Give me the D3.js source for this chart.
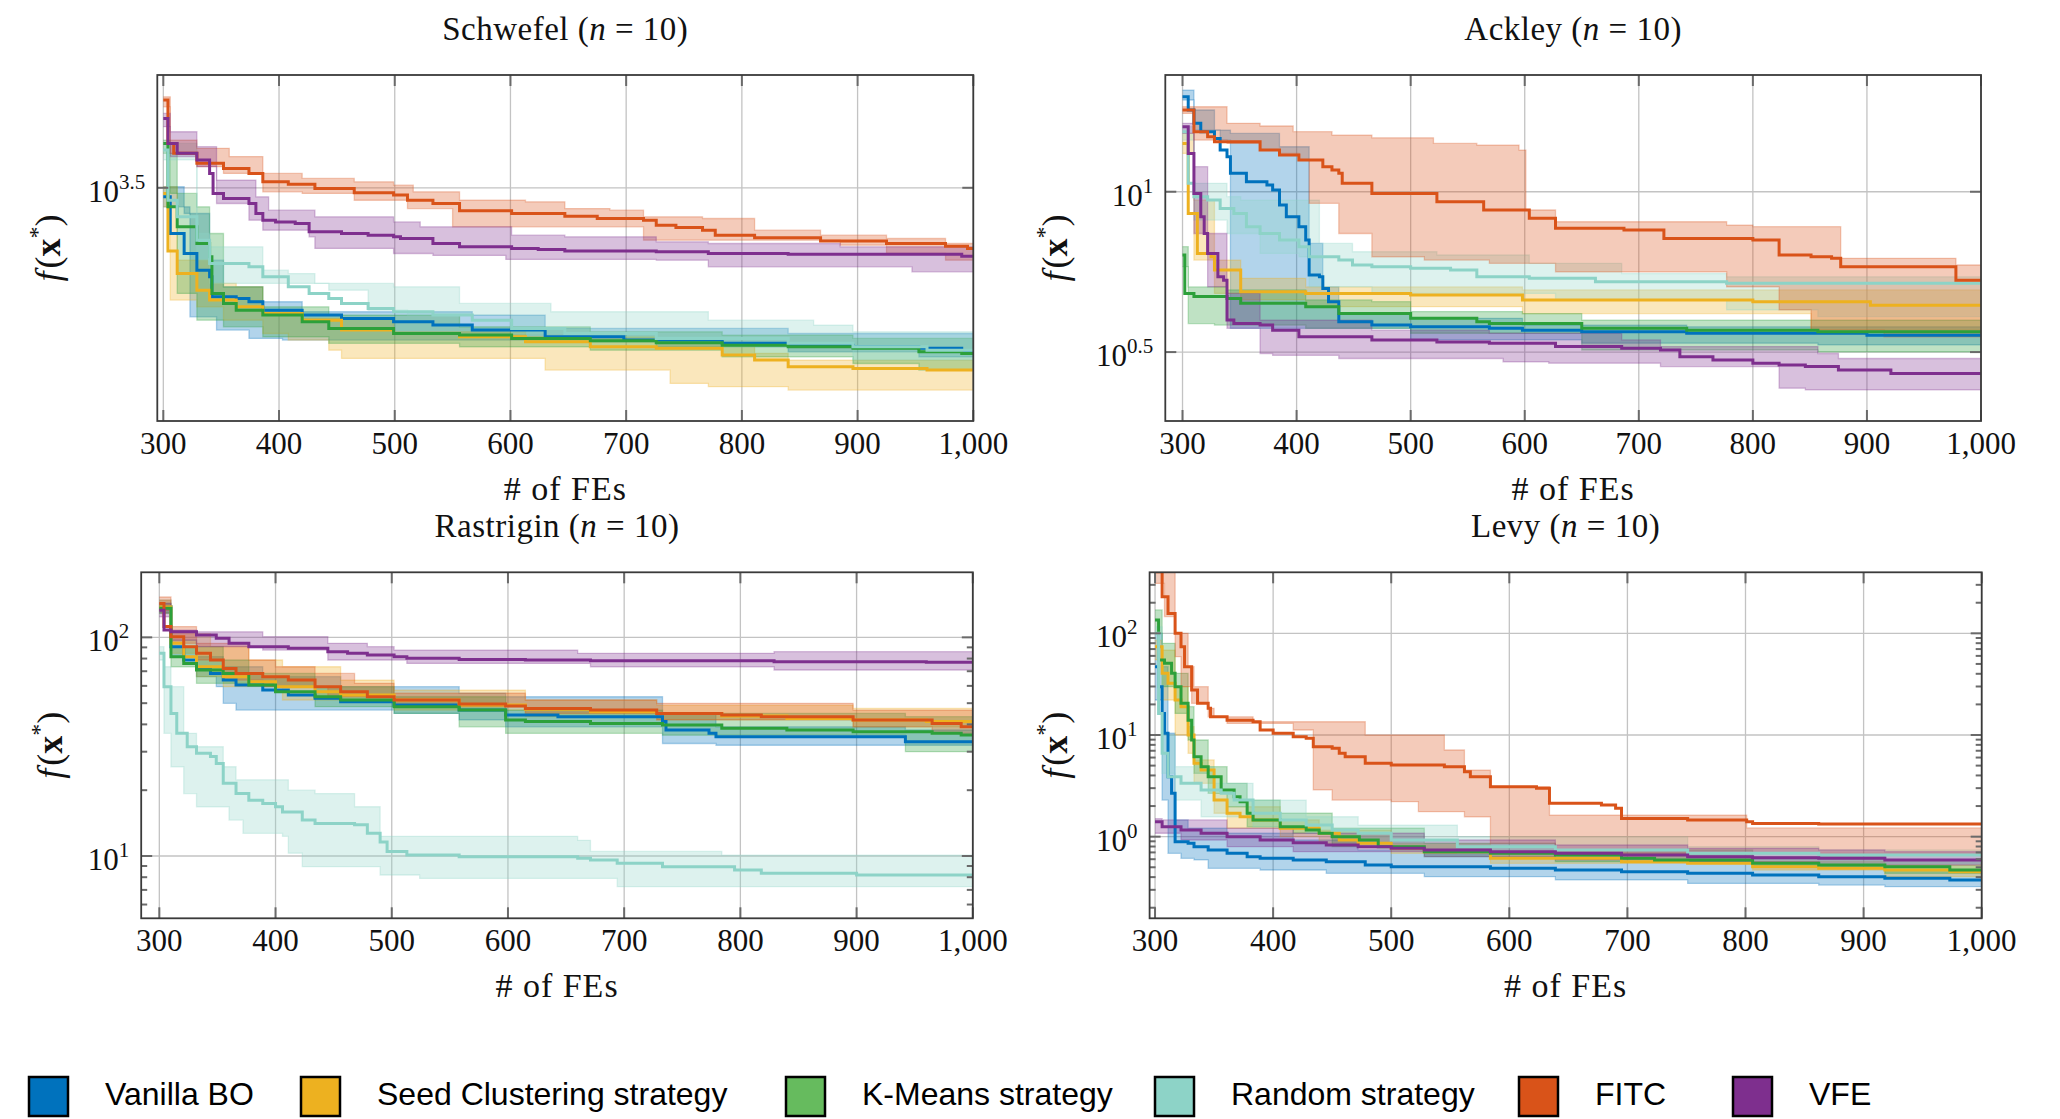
<!doctype html>
<meta charset="utf-8">
<style>
body { margin: 0; background: #fff; }
text { font-family: "Liberation Serif", serif; fill: #111; }
</style>
<script src="https://cdn.jsdelivr.net/npm/d3@7/dist/d3.min.js"></script>
<body>
<script>

var W = 2060, H = 1119;

var seriesNames = ["Vanilla BO", "Seed Clustering strategy", "K-Means strategy", "Random strategy", "FITC", "VFE"];
var lineColors = ["#0072BD", "#EDB120", "#2CA03A", "#8DD3C7", "#D95319", "#7E2F8E"];
var legendColors = ["#0072BD", "#EDB120", "#66BB5E", "#8DD3C7", "#D95319", "#7E2F8E"];
var xTicks = [300, 400, 500, 600, 700, 800, 900, 1000];

// each run: [FEs, f] step points for the mean, upper and lower edge of the band

// Schwefel
var schwefelVanilla = {
  mean: [[300,3069],[306,2716],[318,2541],[329,2404],[340,2351],[342,2200],[363,2188],[374,2164],[386,2104],[420,2070],[454,2047],[499,2024],[533,2002],[567,1969],[630,1926],[698,1905],[783,1884],[840,1873],[896,1863],[953,1853],[990,1838]],
  hi: [[300,3173],[318,2903],[340,2485],[352,2274],[386,2164],[420,2093],[567,2070],[630,1980],[840,1947]],
  lo: [[300,2968],[323,2058],[346,1969],[374,1915],[403,1905],[613,1894],[726,1863],[840,1832],[953,1802]]
};
var schwefelSeed = {
  mean: [[300,3103],[304,2563],[312,2377],[329,2249],[340,2176],[363,2128],[386,2081],[420,2035],[454,1969],[499,1947],[556,1926],[613,1894],[669,1863],[726,1853],[783,1812],[811,1782],[840,1743],[896,1733],[960,1724]],
  hi: [[300,3173],[312,2485],[340,2300],[363,2274],[386,2104],[420,2047],[499,1958],[613,1926],[726,1884],[811,1822],[840,1782]],
  lo: [[300,2968],[306,2176],[329,2128],[352,2035],[386,1947],[408,1905],[443,1842],[454,1792],[630,1724],[738,1649],[771,1631],[840,1613]]
};
var schwefelKMeans = {
  mean: [[300,3666],[304,2968],[312,2777],[329,2627],[340,2513],[342,2225],[352,2152],[363,2104],[386,2070],[420,2024],[443,1980],[499,1947],[556,1937],[601,1915],[669,1901],[726,1888],[783,1873],[840,1863],[896,1853],[953,1832],[990,1822]],
  hi: [[300,3706],[306,3103],[329,2968],[340,2716],[352,2274],[386,2128],[443,2070],[556,1991],[669,1958],[783,1937],[896,1915]],
  lo: [[300,3547],[312,2225],[329,2035],[352,1991],[386,1926],[443,1884],[556,1863],[669,1842],[783,1802],[896,1762],[953,1724]]
};
var schwefelRandom = {
  mean: [[300,3586],[304,3034],[312,2871],[329,2656],[340,2458],[374,2431],[386,2351],[408,2274],[426,2225],[443,2188],[454,2152],[477,2116],[499,2093],[533,2070],[567,2035],[601,1980],[647,1947],[726,1915],[840,1884],[896,1863],[960,1842]],
  hi: [[300,3666],[329,2716],[340,2598],[386,2404],[408,2377],[431,2300],[499,2274],[556,2152],[635,2093],[771,2035],[862,2002],[896,1958]],
  lo: [[300,3469],[329,2485],[340,2300],[443,2249],[477,2104],[511,2070],[601,1947],[669,1926],[783,1863],[896,1782]]
};
var schwefelFITC = {
  mean: [[300,4234],[304,3666],[309,3547],[329,3430],[352,3373],[374,3317],[386,3226],[408,3201],[431,3155],[465,3110],[499,3086],[511,3034],[533,3001],[556,2929],[601,2903],[647,2877],[675,2855],[715,2839],[726,2792],[743,2770],[766,2746],[777,2701],[811,2677],[868,2650],[925,2627],[976,2604],[995,2584]],
  hi: [[300,4281],[306,3706],[329,3606],[357,3508],[386,3317],[420,3262],[465,3226],[499,3190],[516,3120],[556,3034],[613,3018],[647,2951],[686,2935],[715,2871],[766,2855],[811,2746],[868,2701],[925,2671],[976,2627]],
  lo: [[300,4141],[306,3547],[329,3392],[352,3317],[386,3120],[420,3103],[465,3034],[511,2951],[550,2777],[715,2656],[885,2612],[925,2541],[976,2485]]
};
var schwefelVFE = {
  mean: [[300,3983],[304,3666],[312,3547],[329,3469],[340,3317],[343,3103],[352,3051],[374,3001],[380,2903],[386,2839],[397,2823],[414,2808],[426,2731],[454,2716],[477,2701],[499,2686],[505,2671],[533,2627],[556,2598],[601,2584],[624,2575],[647,2563],[726,2555],[771,2541],[840,2535],[990,2518]],
  hi: [[300,4050],[306,3811],[329,3626],[346,3244],[380,3069],[391,2935],[431,2871],[499,2823],[522,2777],[601,2701],[647,2686],[726,2642],[771,2627],[885,2598]],
  lo: [[300,3875],[306,3508],[329,3392],[346,3001],[374,2839],[386,2746],[426,2686],[431,2584],[499,2541],[533,2525],[596,2491],[726,2485],[771,2431],[947,2391]]
};

// Ackley
var ackleyVanilla = {
  mean: [[300,19.79],[305,17.98],[310,16.34],[316,15.39],[328,14.66],[333,13.49],[339,12.86],[342,11.41],[356,10.75],[374,10.49],[379,10.12],[385,9.09],[391,8.36],[402,7.78],[408,7.07],[411,5.50],[420,5.43],[423,4.99],[428,4.54],[437,3.93],[466,3.84],[500,3.79],[569,3.75],[598,3.70],[650,3.66],[742,3.62],[900,3.57]],
  hi: [[300,20.75],[310,17.98],[328,15.57],[342,15.20],[385,13.81],[411,6.90],[423,5.05],[437,4.17],[500,4.03],[598,3.84],[742,3.79]],
  lo: [[300,19.32],[310,15.57],[333,14.49],[342,3.75],[500,3.45],[650,3.37],[857,3.33]]
};
var ackleySeed = {
  mean: [[300,14.15],[305,8.56],[313,6.42],[325,6.27],[328,5.70],[351,4.88],[408,4.82],[500,4.76],[598,4.60],[800,4.54],[903,4.43]],
  hi: [[300,15.20],[310,9.42],[328,6.12],[351,5.37],[408,5.05],[598,4.94]],
  lo: [[300,13.17],[310,6.12],[328,4.82],[351,4.60],[408,4.38],[598,4.17],[851,3.70]]
};
var ackleyKMeans = {
  mean: [[300,6.35],[302,4.82],[310,4.71],[339,4.65],[351,4.49],[408,4.38],[437,4.17],[500,4.03],[558,3.93],[569,3.88],[650,3.75],[742,3.70],[857,3.66]],
  hi: [[300,6.74],[305,5.05],[339,4.94],[408,4.60],[466,4.54],[500,4.23],[598,4.17],[650,3.98]],
  lo: [[300,5.84],[305,3.88],[328,3.84],[408,3.75],[500,3.62],[650,3.21],[857,3.17]]
};
var ackleyRandom = {
  mean: [[300,15.39],[305,10.62],[310,9.65],[322,9.42],[333,8.87],[345,8.56],[356,7.78],[368,7.41],[385,7.07],[402,6.74],[411,6.27],[437,6.12],[449,5.91],[466,5.84],[500,5.77],[535,5.70],[558,5.43],[604,5.37],[662,5.24],[777,5.18]],
  hi: [[300,15.95],[310,10.62],[339,9.65],[351,9.42],[420,6.90],[449,6.50],[523,6.35],[604,5.98],[685,5.56],[777,5.43]],
  lo: [[300,14.49],[310,8.16],[339,7.41],[368,6.42],[402,6.27],[411,5.05],[466,4.82],[627,4.60],[777,4.28],[857,4.08]]
};
var ackleyFITC = {
  mean: [[300,17.98],[310,15.39],[322,14.84],[328,14.32],[368,13.49],[385,13.01],[402,12.55],[423,11.97],[431,11.68],[437,11.41],[440,10.62],[466,9.88],[523,9.31],[564,8.77],[604,8.26],[627,7.69],[687,7.60],[722,7.15],[800,7.07],[823,6.35],[851,6.27],[869,6.20],[877,5.84],[978,5.30]],
  hi: [[300,18.41],[339,16.34],[368,16.03],[397,15.39],[431,15.02],[466,14.73],[520,14.15],[558,13.98],[595,13.49],[601,8.77],[627,8.06],[777,7.87],[800,7.78],[877,6.20],[978,5.91]],
  lo: [[300,17.55],[310,14.49],[339,14.15],[368,13.49],[385,13.17],[402,12.55],[411,9.20],[437,7.41],[466,6.27],[512,6.12],[569,5.98],[627,5.63],[777,5.05],[823,4.28],[851,3.70],[915,3.53]]
};
var ackleyVFE = {
  mean: [[300,15.95],[305,13.17],[310,9.88],[316,8.36],[319,7.41],[322,6.42],[331,5.43],[336,5.30],[339,3.98],[345,3.88],[368,3.84],[379,3.70],[402,3.53],[466,3.45],[523,3.40],[569,3.37],[627,3.29],[685,3.25],[719,3.21],[736,3.06],[765,2.99],[800,2.92],[823,2.88],[846,2.85],[875,2.78],[921,2.71]],
  hi: [[300,16.34],[310,11.97],[322,7.41],[339,4.82],[368,3.98],[466,3.70],[569,3.62],[685,3.45],[719,3.29],[857,3.13],[875,3.02]],
  lo: [[300,15.20],[310,7.41],[322,5.05],[339,3.75],[368,3.13],[379,3.09],[437,3.02],[581,2.95],[621,2.92],[719,2.85],[823,2.44],[846,2.41]]
};

// Rastrigin
var rastriginVanilla = {
  mean: [[300,138],[310,90.7],[321,78.8],[332,72.1],[344,68.4],[355,63.8],[366,60.5],[389,57.4],[411,54.5],[434,52.6],[456,50.8],[502,49.0],[558,46.5],[598,44.1],[643,43.4],[733,41.2],[736,37.7],[773,36.4],[779,35.1],[942,33.3]],
  hi: [[300,148],[310,97.2],[332,81.6],[355,73.4],[389,66.1],[456,59.5],[558,55.5],[598,53.5],[733,44.9],[779,39.0],[942,37.7]],
  lo: [[300,129],[310,81.6],[332,66.1],[349,59.5],[355,49.9],[366,46.5],[502,44.9],[558,41.9],[598,39.0],[733,32.7],[779,32.1]]
};
var rastriginSeed = {
  mean: [[300,138],[310,93.9],[321,81.6],[332,73.4],[355,66.1],[377,62.7],[400,59.5],[434,56.4],[456,54.5],[502,51.7],[558,49.0],[615,46.9],[671,45.7],[728,44.9],[784,43.7],[840,42.6],[897,41.9],[960,41.2]],
  hi: [[300,148],[310,104],[344,90.7],[377,78.8],[406,73.4],[456,63.8],[502,57.4],[615,51.7],[728,49.0],[897,47.3]],
  lo: [[300,129],[310,84.5],[332,66.1],[355,59.5],[406,51.7],[502,46.5],[615,43.4],[728,41.9],[897,39.0]]
};
var rastriginKMeans = {
  mean: [[300,136],[310,81.6],[321,76.0],[332,70.9],[355,68.4],[377,60.5],[400,56.4],[434,53.5],[456,51.7],[502,48.2],[558,46.5],[598,41.9],[615,41.2],[671,40.4],[733,39.7],[784,38.4],[840,37.7],[897,37.0],[965,36.4],[990,35.8]],
  hi: [[300,143],[310,90.7],[355,78.8],[377,68.4],[434,59.5],[502,53.5],[598,46.5],[733,44.9],[942,43.4]],
  lo: [[300,129],[310,73.4],[332,61.6],[389,59.5],[434,48.2],[502,44.9],[558,39.0],[598,36.4],[733,35.7],[942,30.0]]
};
var rastriginRandom = {
  mean: [[300,84.5],[304,59.5],[310,44.9],[315,36.4],[324,31.6],[332,29.5],[344,28.5],[349,26.5],[355,21.5],[366,19.3],[377,18.0],[389,17.4],[400,16.8],[406,15.9],[423,14.6],[434,14.1],[468,13.9],[479,12.7],[490,11.6],[496,10.5],[513,10.1],[558,9.93],[660,9.76],[671,9.59],[694,9.26],[733,8.94],[795,8.63],[818,8.33],[900,8.19]],
  hi: [[300,90.7],[304,73.4],[310,59.5],[321,36.4],[332,31.6],[355,25.6],[366,22.3],[411,20.0],[434,19.3],[468,16.8],[490,12.3],[660,11.8],[671,10.5],[784,10.1]],
  lo: [[300,78.8],[304,36.4],[310,25.6],[321,19.3],[332,16.8],[360,14.6],[372,12.7],[406,12.3],[411,10.3],[423,8.94],[490,8.19],[524,7.9],[694,7.24]]
};
var rastriginFITC = {
  mean: [[300,143],[304,112],[310,100.7],[321,90.7],[332,84.5],[344,78.8],[355,72.1],[366,68.4],[389,66.1],[411,63.8],[434,59.5],[456,56.4],[479,53.5],[502,51.7],[558,49.6],[598,48.5],[615,47.3],[671,46.5],[728,44.9],[784,44.1],[818,43.4],[897,41.9],[965,40.4],[990,39.0]],
  hi: [[300,153],[310,112],[332,93.9],[377,78.8],[400,73.4],[434,68.4],[468,61.6],[502,55.5],[615,51.7],[728,49.9],[897,46.5]],
  lo: [[300,133],[310,93.9],[332,78.8],[355,63.8],[389,59.5],[445,53.5],[502,48.2],[615,44.9],[728,41.9],[897,39.0],[965,36.4]]
};
var rastriginVFE = {
  mean: [[300,133],[304,108],[310,106],[332,102.5],[349,99.0],[360,93.9],[377,90.7],[411,89.1],[445,86.0],[462,84.5],[479,83.0],[502,81.6],[513,80.2],[558,79.3],[615,78.8],[671,78.2],[829,77.4],[960,77.0]],
  hi: [[300,143],[310,108],[332,106],[389,100.7],[445,93.9],[479,90.7],[502,87.5],[660,84.5],[829,86.0]],
  lo: [[300,124],[310,97.2],[332,90.7],[389,87.5],[445,78.8],[513,76.0],[671,73.4],[829,70.9]]
};

// Levy
var levyVanilla = {
  mean: [[300,47.0],[303,29.9],[306,16.3],[308,10.4],[311,3.89],[314,2.67],[317,0.893],[328,0.860],[333,0.797],[345,0.740],[361,0.686],[378,0.636],[389,0.612],[417,0.590],[445,0.568],[478,0.526],[500,0.507],[584,0.488],[639,0.470],[695,0.453],[751,0.436],[806,0.420],[862,0.404],[918,0.389],[973,0.375]],
  hi: [[300,100],[306,47.0],[311,10.4],[317,1.46],[328,1.21],[361,1.08],[417,0.927],[472,0.740],[584,0.612],[695,0.568],[806,0.526],[918,0.470]],
  lo: [[300,22.1],[306,2.29],[311,0.686],[322,0.612],[333,0.590],[345,0.488],[389,0.470],[445,0.436],[528,0.404],[639,0.375],[751,0.347],[862,0.334],[918,0.322]]
};
var levySeed = {
  mean: [[300,73.9],[306,40.4],[311,32.2],[317,22.1],[322,19.0],[328,10.0],[333,5.26],[339,4.53],[350,2.29],[361,1.70],[372,1.57],[383,1.46],[406,1.21],[439,1.08],[456,0.927],[472,0.860],[500,0.768],[528,0.712],[584,0.612],[695,0.568],[751,0.547],[806,0.507],[862,0.488],[918,0.470],[973,0.453]],
  hi: [[300,85.9],[306,68.5],[317,29.9],[328,12.1],[333,5.68],[350,2.67],[361,1.97],[406,1.46],[439,1.16],[500,0.860],[584,0.686],[806,0.568],[918,0.526]],
  lo: [[300,54.7],[306,22.1],[317,10.0],[328,6.60],[333,3.35],[350,1.70],[361,1.21],[406,1.00],[439,0.860],[500,0.686],[584,0.547],[806,0.470],[918,0.404]]
};
var levyKMeans = {
  mean: [[300,135],[303,54.7],[308,50.7],[314,40.4],[317,29.9],[322,20.5],[328,14.0],[331,8.93],[333,6.12],[339,4.88],[345,3.89],[356,2.88],[367,2.47],[372,2.21],[378,1.70],[383,1.46],[406,1.25],[428,1.16],[439,1.08],[450,1.00],[473,0.927],[489,0.797],[528,0.712],[584,0.686],[639,0.660],[695,0.612],[723,0.590],[806,0.547],[862,0.526],[918,0.507],[973,0.470]],
  hi: [[300,170],[306,79.7],[317,40.4],[328,19.0],[333,8.93],[345,4.88],[361,3.35],[378,2.29],[406,1.70],[450,1.21],[528,0.860],[639,0.740],[806,0.636],[918,0.590]],
  lo: [[300,100],[306,29.9],[317,16.3],[328,8.93],[333,4.20],[345,2.67],[361,1.97],[378,1.25],[417,1.08],[450,0.797],[528,0.636],[639,0.568],[806,0.507],[918,0.436]]
};
var levyRandom = {
  mean: [[300,100],[303,16.3],[306,6.60],[311,3.89],[322,3.35],[339,2.88],[356,2.67],[367,2.29],[383,1.70],[406,1.46],[428,1.30],[450,1.16],[472,1.08],[500,0.927],[556,0.797],[639,0.740],[751,0.686],[862,0.660]],
  hi: [[300,116],[306,10.0],[317,4.88],[350,3.35],[383,2.29],[428,1.57],[472,1.30],[556,1.00],[751,0.797],[862,0.740]],
  lo: [[300,85.9],[306,4.20],[317,2.29],[339,1.57],[383,1.25],[428,1.08],[472,0.860],[556,0.686],[751,0.590],[862,0.547]]
};
var levyFITC = {
  mean: [[300,404],[306,229],[311,157],[317,100],[322,73.9],[325,47.0],[331,27.7],[336,20.5],[345,18.3],[347,15.1],[361,14.0],[383,13.5],[389,11.2],[400,10.4],[417,9.63],[428,9.27],[434,7.68],[450,7.39],[456,6.60],[461,6.12],[478,5.26],[500,5.07],[545,4.88],[562,4.36],[567,3.89],[584,3.10],[623,2.99],[634,2.13],[678,2.05],[690,1.90],[695,1.51],[751,1.46],[801,1.40],[806,1.35],[862,1.33]],
  hi: [[300,404],[317,100],[328,47.0],[333,29.9],[345,18.3],[350,15.1],[383,13.5],[478,10.0],[545,7.12],[562,4.50],[584,3.10],[634,1.63],[801,1.22]],
  lo: [[300,310],[308,146],[317,59.0],[322,29.9],[331,20.5],[345,15.1],[361,13.0],[417,11.2],[434,2.88],[450,2.29],[500,2.21],[523,1.76],[562,1.57],[584,0.860],[639,0.686]]
};
var levyVFE = {
  mean: [[300,1.40],[306,1.25],[322,1.16],[339,1.08],[361,1.00],[389,0.927],[417,0.873],[445,0.828],[472,0.797],[500,0.768],[528,0.740],[584,0.712],[639,0.686],[695,0.660],[751,0.636],[806,0.620],[862,0.612],[918,0.590]],
  hi: [[300,1.50],[306,1.46],[361,1.21],[417,1.08],[528,0.927],[639,0.828],[751,0.768],[862,0.740],[918,0.712]],
  lo: [[300,1.08],[322,0.927],[361,0.797],[417,0.712],[528,0.636],[639,0.590],[751,0.568],[862,0.526]]
};

// layout of the four axes (left, top, right, bottom in px)
var panels = [
  { title: "Schwefel", runs: [schwefelVanilla, schwefelSeed, schwefelKMeans, schwefelRandom, schwefelFITC, schwefelVFE],
    yDomain: [1455, 4603], yExps: [3.5], minor: false, xMin: 294.8, box: [157.3, 75, 973.3, 421], labelX: 60 },
  { title: "Ackley", runs: [ackleyVanilla, ackleySeed, ackleyKMeans, ackleyRandom, ackleyFITC, ackleyVFE],
    yDomain: [1.928, 23.12], yExps: [0.5, 1], minor: false, xMin: 284.9, box: [1165.3, 75, 1981, 421], labelX: 1067 },
  { title: "Rastrigin", runs: [rastriginVanilla, rastriginSeed, rastriginKMeans, rastriginRandom, rastriginFITC, rastriginVFE],
    yDomain: [5.19, 198.4], yExps: [1, 2], minor: true, xMin: 284.4, box: [141.2, 572.3, 972.8, 918.3], labelX: 62 },
  { title: "Levy", runs: [levyVanilla, levySeed, levyKMeans, levyRandom, levyFITC, levyVFE],
    yDomain: [0.1574, 398.4], yExps: [0, 1, 2], minor: true, xMin: 295.4, box: [1149.6, 572.3, 1981.7, 918.3], labelX: 1067 }
];

var legendX = [29, 301, 786, 1155, 1519, 1733];

var svg = d3.select("body").append("svg")
    .attr("width", W)
    .attr("height", H);

var defs = svg.append("defs");

function stepAt(pts, fe) {
  var v = pts[0][1];
  pts.forEach(function(p) { if (p[0] <= fe) v = p[1]; });
  return v;
}

function withEnd(pts) {
  return pts.concat([[1000, pts[pts.length - 1][1]]]);
}

panels.forEach(function(p, pi) {
  var x0 = p.box[0], y0 = p.box[1], x1 = p.box[2], y1 = p.box[3];
  var x = d3.scaleLinear().domain([p.xMin, 1000]).range([x0, x1]);
  var y = d3.scaleLog().domain(p.yDomain).range([y1, y0]);
  var g = svg.append("g");

  defs.append("clipPath")
      .attr("id", "clip" + pi)
    .append("rect")
      .attr("x", x0).attr("y", y0)
      .attr("width", x1 - x0).attr("height", y1 - y0);

  var yMajor = p.yExps.map(function(e) { return Math.pow(10, e); });

  // grid
  g.selectAll(".gx").data(xTicks).enter().append("line")
      .attr("x1", function(d) { return x(d); }).attr("x2", function(d) { return x(d); })
      .attr("y1", y0).attr("y2", y1)
      .style("stroke", "#c3c3c3").style("stroke-width", 1.3);
  g.selectAll(".gy").data(yMajor).enter().append("line")
      .attr("y1", function(d) { return y(d); }).attr("y2", function(d) { return y(d); })
      .attr("x1", x0).attr("x2", x1)
      .style("stroke", "#c3c3c3").style("stroke-width", 1.3);

  var plot = g.append("g").attr("clip-path", "url(#clip" + pi + ")");

  var line = d3.line()
      .x(function(d) { return x(d[0]); })
      .y(function(d) { return y(d[1]); })
      .curve(d3.curveStepAfter);

  var area = d3.area()
      .x(function(d) { return x(d[0]); })
      .y0(function(d) { return y(d[1]); })
      .y1(function(d) { return y(d[2]); })
      .curve(d3.curveStepAfter);

  // bands
  p.runs.forEach(function(run, si) {
    var fes = Array.from(new Set(run.hi.map(function(d) { return d[0]; })
        .concat(run.lo.map(function(d) { return d[0]; })).concat([1000]))).sort(d3.ascending);
    var band = fes.map(function(fe) { return [fe, stepAt(run.lo, fe), stepAt(run.hi, fe)]; });
    plot.append("path")
        .attr("d", area(band))
        .style("fill", lineColors[si])
        .style("fill-opacity", 0.3)
        .style("stroke", "none");
    [run.hi, run.lo].forEach(function(edge) {
      plot.append("path")
          .attr("d", line(withEnd(edge)))
          .style("fill", "none")
          .style("stroke", lineColors[si])
          .style("stroke-opacity", 0.3)
          .style("stroke-width", 1.3);
    });
  });

  // mean lines
  p.runs.forEach(function(run, si) {
    plot.append("path")
        .attr("d", line(withEnd(run.mean)))
        .style("fill", "none")
        .style("stroke", lineColors[si])
        .style("stroke-width", 3);
  });

  // ticks
  var tk = g.append("g").style("stroke", "#6a6a6a").style("stroke-width", 2);
  xTicks.forEach(function(t) {
    tk.append("line").attr("x1", x(t)).attr("x2", x(t)).attr("y1", y1).attr("y2", y1 - 11);
    tk.append("line").attr("x1", x(t)).attr("x2", x(t)).attr("y1", y0).attr("y2", y0 + 11);
  });
  yMajor.forEach(function(t) {
    tk.append("line").attr("y1", y(t)).attr("y2", y(t)).attr("x1", x0).attr("x2", x0 + 11);
    tk.append("line").attr("y1", y(t)).attr("y2", y(t)).attr("x1", x1).attr("x2", x1 - 11);
  });
  if (p.minor) {
    var lo = Math.floor(Math.log10(p.yDomain[0])), hi = Math.ceil(Math.log10(p.yDomain[1]));
    for (var e = lo; e <= hi; e++) {
      for (var k = 2; k <= 9; k++) {
        var v = k * Math.pow(10, e);
        if (v < p.yDomain[0] || v > p.yDomain[1]) continue;
        tk.append("line").attr("y1", y(v)).attr("y2", y(v)).attr("x1", x0).attr("x2", x0 + 6);
        tk.append("line").attr("y1", y(v)).attr("y2", y(v)).attr("x1", x1).attr("x2", x1 - 6);
      }
    }
  }

  // frame
  g.append("rect")
      .attr("x", x0).attr("y", y0)
      .attr("width", x1 - x0).attr("height", y1 - y0)
      .style("fill", "none")
      .style("stroke", "#3a3a3a")
      .style("stroke-width", 1.8);

  // tick labels
  g.selectAll(".xl").data(xTicks).enter().append("text")
      .attr("x", function(d) { return x(d); })
      .attr("y", y1 + 33)
      .attr("text-anchor", "middle")
      .style("font-size", "31px")
      .text(d3.format(","));

  p.yExps.forEach(function(e) {
    var t = g.append("text")
        .attr("x", x0 - 12)
        .attr("y", y(Math.pow(10, e)) + 14)
        .attr("text-anchor", "end")
        .style("font-size", "31px");
    t.append("tspan").text("10");
    t.append("tspan").attr("dy", -13).style("font-size", "21px").text(String(e));
  });

  // title
  var ti = g.append("text")
      .attr("x", (x0 + x1) / 2)
      .attr("y", y0 - 35)
      .attr("text-anchor", "middle")
      .style("font-size", "33px")
      .style("letter-spacing", "0.5px");
  ti.append("tspan").text(p.title + " (");
  ti.append("tspan").style("font-style", "italic").text("n");
  ti.append("tspan").text(" = 10)");

  // axis labels
  g.append("text")
      .attr("x", (x0 + x1) / 2)
      .attr("y", y1 + 79)
      .attr("text-anchor", "middle")
      .style("font-size", "34px")
      .style("letter-spacing", "1px")
      .text("# of FEs");

  var yl = g.append("text")
      .attr("transform", "translate(" + p.labelX + "," + ((y0 + y1) / 2) + ") rotate(-90)")
      .attr("text-anchor", "middle")
      .style("font-size", "36px");
  yl.append("tspan").style("font-style", "italic").text("f");
  yl.append("tspan").attr("dx", 3).text("(");
  yl.append("tspan").style("font-weight", "bold").text("x");
  yl.append("tspan").attr("dy", -15).style("font-size", "24px").text("*");
  yl.append("tspan").attr("dy", 15).text(")");
});

// legend
var lg = svg.append("g");
seriesNames.forEach(function(name, i) {
  lg.append("rect")
      .attr("x", legendX[i]).attr("y", 1077)
      .attr("width", 39).attr("height", 39)
      .style("fill", legendColors[i])
      .style("stroke", "#000")
      .style("stroke-width", 2.5);
  lg.append("text")
      .attr("x", legendX[i] + 76)
      .attr("y", 1105)
      .style("font-family", "'Liberation Sans', Arial, sans-serif")
      .style("font-size", "32px")
      .style("fill", "#000")
      .text(name);
});

</script>
